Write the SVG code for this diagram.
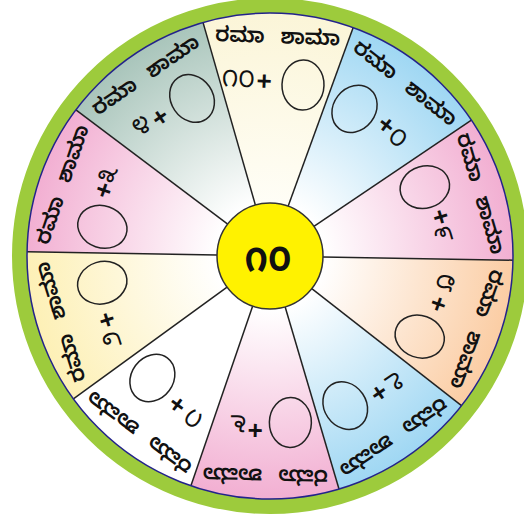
<svg xmlns="http://www.w3.org/2000/svg" width="524" height="527" viewBox="0 0 524 527">
<defs>
<radialGradient id="gCream" gradientUnits="userSpaceOnUse" cx="270" cy="256" r="243"><stop offset="0.2" stop-color="#fffef7"/><stop offset="1" stop-color="#fbf5d8"/></radialGradient>
<radialGradient id="gBlue" gradientUnits="userSpaceOnUse" cx="270" cy="256" r="243"><stop offset="0.22" stop-color="#ffffff"/><stop offset="1" stop-color="#9fd7f3"/></radialGradient>
<radialGradient id="gPink" gradientUnits="userSpaceOnUse" cx="270" cy="256" r="243"><stop offset="0.22" stop-color="#ffffff"/><stop offset="1" stop-color="#f2afd2"/></radialGradient>
<radialGradient id="gPeach" gradientUnits="userSpaceOnUse" cx="270" cy="256" r="243"><stop offset="0.22" stop-color="#ffffff"/><stop offset="1" stop-color="#fbcda4"/></radialGradient>
<radialGradient id="gYellow" gradientUnits="userSpaceOnUse" cx="270" cy="256" r="243"><stop offset="0.22" stop-color="#ffffff"/><stop offset="1" stop-color="#fdf0b6"/></radialGradient>
<radialGradient id="gGray" gradientUnits="userSpaceOnUse" cx="270" cy="256" r="243"><stop offset="0.22" stop-color="#ffffff"/><stop offset="1" stop-color="#a9c5bb"/></radialGradient>
<style>
.spoke{stroke:#222;stroke-width:1.5}
.lbl{font-family:"Noto Sans Kannada","Noto Sans",sans-serif;font-size:21px;font-weight:600;fill:#111;text-anchor:middle;word-spacing:10px}
.dig{font-family:"Noto Sans Kannada","Noto Sans",sans-serif;font-size:24px;fill:#111;text-anchor:middle}
.plus{font-family:"Liberation Sans",sans-serif;font-weight:bold;font-size:26px;fill:#111;text-anchor:middle}
.oval{fill:none;stroke:#222;stroke-width:1.5}
</style>
</defs>
<rect width="524" height="527" fill="#ffffff"/>
<circle cx="270" cy="256" r="250.5" fill="none" stroke="#9dcb3c" stroke-width="15"/>
<g id="wedges">
<path d="M270 256 L203.0 22.4 A243 243 0 0 1 353.1 27.7 Z" fill="url(#gCream)"/>
<path d="M270 256 L353.1 27.7 A243 243 0 0 1 471.4 120.1 Z" fill="url(#gBlue)"/>
<path d="M270 256 L471.4 120.1 A243 243 0 0 1 513.0 260.2 Z" fill="url(#gPink)"/>
<path d="M270 256 L513.0 260.2 A243 243 0 0 1 461.5 405.6 Z" fill="url(#gPeach)"/>
<path d="M270 256 L461.5 405.6 A243 243 0 0 1 339.0 489.0 Z" fill="url(#gBlue)"/>
<path d="M270 256 L339.0 489.0 A243 243 0 0 1 190.9 485.8 Z" fill="url(#gPink)"/>
<path d="M270 256 L190.9 485.8 A243 243 0 0 1 73.4 398.8 Z" fill="#ffffff"/>
<path d="M270 256 L73.4 398.8 A243 243 0 0 1 27.0 251.8 Z" fill="url(#gYellow)"/>
<path d="M270 256 L27.0 251.8 A243 243 0 0 1 75.9 109.8 Z" fill="url(#gPink)"/>
<path d="M270 256 L75.9 109.8 A243 243 0 0 1 203.0 22.4 Z" fill="url(#gGray)"/>
</g>
<g id="connectors">
<line class="spoke" x1="255.4" y1="205.1" x2="203.0" y2="22.4"/>
<line class="spoke" x1="288.1" y1="206.2" x2="353.1" y2="27.7"/>
<line class="spoke" x1="313.9" y1="226.4" x2="471.4" y2="120.1"/>
<line class="spoke" x1="323.0" y1="256.9" x2="513.0" y2="260.2"/>
<line class="spoke" x1="311.8" y1="288.6" x2="461.5" y2="405.6"/>
<line class="spoke" x1="285.1" y1="306.8" x2="339.0" y2="489.0"/>
<line class="spoke" x1="252.7" y1="306.1" x2="190.9" y2="485.8"/>
<line class="spoke" x1="227.1" y1="287.2" x2="73.4" y2="398.8"/>
<line class="spoke" x1="217.0" y1="255.1" x2="27.0" y2="251.8"/>
<line class="spoke" x1="227.7" y1="224.1" x2="75.9" y2="109.8"/>
</g>
<circle cx="270" cy="256" r="243" fill="none" stroke="#23238a" stroke-width="1.5"/>
<g id="center">
<circle cx="270" cy="256" r="53" fill="#fff200" stroke="#333" stroke-width="1.5"/>
<text x="268" y="271" font-family="Noto Sans Kannada, Noto Sans, sans-serif" font-size="34" font-weight="bold" text-anchor="middle" fill="#111">೧೦</text>
</g>
<g id="seg1" transform="translate(270 256) rotate(2)">
<text class="lbl" x="0" y="-213">ರಮಾ ಶಾಮಾ</text>
<text class="dig" x="-38" y="-168">೧೦</text><text class="plus" x="-12" y="-166">+</text><ellipse class="oval" cx="27" cy="-172" rx="21" ry="25"/>
</g>
<g id="seg2" transform="translate(270 256) rotate(38)">
<text class="lbl" x="0" y="-213">ರಮಾ ಶಾಮಾ</text>
<ellipse class="oval" cx="-24" cy="-168" rx="21" ry="25"/><text class="plus" x="11" y="-166">+</text><text class="dig" x="28" y="-164">೦</text>
</g>
<g id="seg3" transform="translate(270 256) rotate(73.5)">
<text class="lbl" x="0" y="-213">ರಮಾ ಶಾಮಾ</text>
<ellipse class="oval" cx="-22" cy="-168" rx="21" ry="25"/><text class="plus" x="11" y="-166">+</text><text class="dig" x="28" y="-164">೯</text>
</g>
<g id="seg4" transform="translate(270 256) rotate(109.5)">
<text class="lbl" x="0" y="-213">ರಮಾ ಶಾಮಾ</text>
<text class="dig" x="-34" y="-166">೮</text><text class="plus" x="-11" y="-166">+</text><ellipse class="oval" cx="26" cy="-168" rx="21" ry="25"/>
</g>
<g id="seg5" transform="translate(270 256) rotate(145.75)">
<text class="lbl" x="0" y="-213">ರಮಾ ಶಾಮಾ</text>
<text class="dig" x="-32" y="-166">೭</text><text class="plus" x="-13" y="-166">+</text><ellipse class="oval" cx="22" cy="-166" rx="21" ry="25"/>
</g>
<g id="seg6" transform="translate(270 256) rotate(181.25)">
<text class="lbl" x="0" y="-213">ರಮಾ ಶಾಮಾ</text>
<ellipse class="oval" cx="-24" cy="-166" rx="21" ry="25"/><text class="plus" x="11" y="-166">+</text><text class="dig" x="28" y="-160">೬</text>
</g>
<g id="seg7" transform="translate(270 256) rotate(216.5)">
<text class="lbl" x="0" y="-213">ರಮಾ ಶಾಮಾ</text>
<text class="dig" x="-35" y="-168">೧</text><text class="plus" x="-14" y="-166">+</text><ellipse class="oval" cx="22" cy="-168" rx="21" ry="25"/>
</g>
<g id="seg8" transform="translate(270 256) rotate(252.5)">
<text class="lbl" x="0" y="-213">ರಮಾ ಶಾಮಾ</text>
<text class="dig" x="-32" y="-168">೨</text><text class="plus" x="-12" y="-166">+</text><ellipse class="oval" cx="25" cy="-168" rx="21" ry="25"/>
</g>
<g id="seg9" transform="translate(270 256) rotate(289)">
<text class="lbl" x="0" y="-213">ರಮಾ ಶಾಮಾ</text>
<ellipse class="oval" cx="-27" cy="-168" rx="21" ry="25"/><text class="plus" x="8" y="-170">+</text><text class="dig" x="24" y="-172">೩</text>
</g>
<g id="seg10" transform="translate(270 256) rotate(325.5)">
<text class="lbl" x="0" y="-213">ರಮಾ ಶಾಮಾ</text>
<text class="dig" x="-32" y="-172">೪</text><text class="plus" x="-12" y="-168">+</text><ellipse class="oval" cx="25" cy="-174" rx="21" ry="25"/>
</g>
</svg>
